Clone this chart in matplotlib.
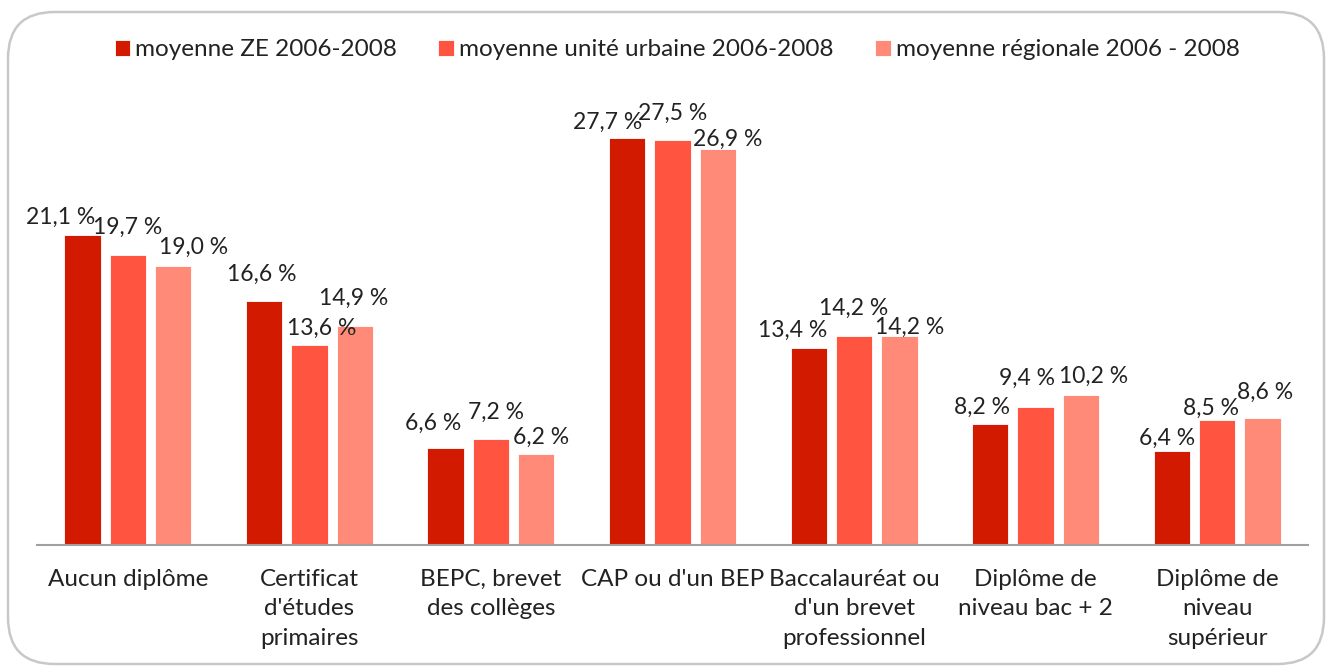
import matplotlib
matplotlib.use("Agg")
import matplotlib.pyplot as plt
from matplotlib.patches import FancyBboxPatch
import numpy as np

plt.rcParams['font.family'] = ['Lato', 'DejaVu Sans']

categories = ["Aucun diplôme", "Certificat\nd'études\nprimaires", "BEPC, brevet\ndes collèges",
              "CAP ou d'un BEP", "Baccalauréat ou\nd'un brevet\nprofessionnel",
              "Diplôme de\nniveau bac + 2", "Diplôme de\nniveau\nsupérieur"]
series_names = ["moyenne ZE 2006-2008", "moyenne unité urbaine 2006-2008",
                "moyenne régionale 2006 - 2008"]
ze = [21.1, 16.6, 6.6, 27.7, 13.4, 8.2, 6.4]
urbaine = [19.7, 13.6, 7.2, 27.5, 14.2, 9.4, 8.5]
regionale = [19.0, 14.9, 6.2, 26.9, 14.2, 10.2, 8.6]

colors = ["#D21A00", "#FF5540", "#FF8A78"]

# label nudges in pixels (Excel moved them around to avoid overlaps)
label_dx = [[-22, -2, -12, -19, -16, -8, -5],
            [0, 12, 5, 0, 0, -9, -6],
            [20, -1, 5, 10, 10, 13, 2]]
label_dy = [[17, 26, 25, 15, 18, 17, 13],
            [28, 17, 27, 27, 28, 28, 12],
            [18, 27, 16, 10, 9, 19, 26]]

fs_val = 16.5
fs = 17.5

fig = plt.figure(figsize=(13.31, 6.72), dpi=100)

border = FancyBboxPatch((8 / 1331, 8 / 672), 1316 / 1331, 652 / 672,
                        boxstyle="round,pad=0,rounding_size=0.035",
                        transform=fig.transFigure, facecolor="white",
                        edgecolor="#C8C8C8", linewidth=1.8, mutation_aspect=1331 / 672,
                        zorder=-1)
fig.patches.append(border)

ax = fig.add_axes([37 / 1331, 1 - 545 / 672, 1271 / 1331, (545 - 89) / 672])
ax.patch.set_alpha(0)

x = np.arange(len(categories))
width = 0.2
offsets = [-0.25, 0, 0.25]
all_vals = [ze, urbaine, regionale]
for k, vals in enumerate(all_vals):
    bars = ax.bar(x + offsets[k], vals, width, color=colors[k], edgecolor="white",
                  linewidth=0.6, label=series_names[k])
    for i, b in enumerate(bars):
        ax.annotate(f"{vals[i]:.1f} %".replace(".", ","),
                    (b.get_x() + b.get_width() / 2, b.get_height()),
                    xytext=(label_dx[k][i], label_dy[k][i]), textcoords="offset pixels",
                    ha="center", va="center", fontsize=fs_val, color="#222222")

ax.set_xlim(-0.5, len(categories) - 0.5)
ax.set_ylim(0, 31)
ax.set_yticks([])
for s in ["top", "right", "left"]:
    ax.spines[s].set_visible(False)
ax.spines["bottom"].set_color("#A0A0A0")
ax.spines["bottom"].set_linewidth(1.5)
ax.set_xticks(x)
ax.set_xticklabels(categories, fontsize=fs, color="#222222", linespacing=1.5, va="top")
ax.tick_params(axis="x", length=0, pad=17)

fig.legend(loc="center", bbox_to_anchor=(677 / 1331, 1 - 50 / 672), ncol=3, frameon=False,
           fontsize=fs, handlelength=0.65, handleheight=0.65, handletextpad=0.2,
           columnspacing=1.7, labelcolor="#222222")

fig.savefig("out.png", dpi=100)
